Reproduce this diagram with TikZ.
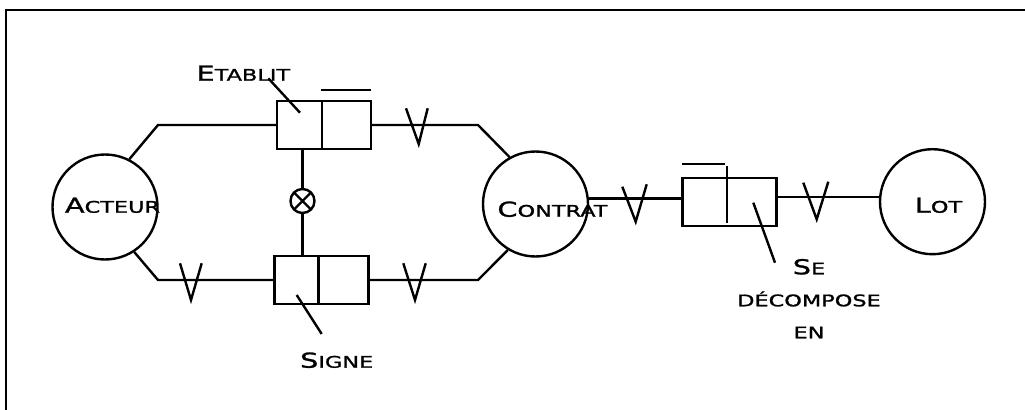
\documentclass[tikz,border=0pt]{standalone}
\usepackage{fontspec}
\setmainfont{DejaVu Sans}[FakeStretch=1.4,FakeBold=1.3]
\newcommand{\smcap}[2]{{\fontsize{15.4pt}{24pt}\selectfont #1}{\fontsize{12pt}{24pt}\selectfont #2}}
\begin{document}
\begin{tikzpicture}[x=0.75pt,y=-0.75pt,line width=1.8pt,
  entity/.style={circle,draw,minimum size=78.75pt,inner sep=0pt},
  relbox/.style={rectangle,draw,minimum width=70.5pt,minimum height=36pt,inner sep=0pt},
  xcirc/.style={circle,draw,minimum size=18pt,inner sep=0pt,
    path picture={\draw (path picture bounding box.north west) -- (path picture bounding box.south east)
      (path picture bounding box.south west) -- (path picture bounding box.north east);}},
  lbl/.style={inner sep=0pt,anchor=base,align=center,font=\fontsize{12pt}{24pt}\selectfont},
  vmark/.style={line join=miter},
  leader/.style={}]
\useasboundingbox (0,0) rectangle (1025,410);
% frame
\draw (6,415) -- (6,10) -- (1030,10);
% entities
\node[entity] (acteur) at (105,207) {};
\node[entity] (contrat) at (535.5,204) {};
\node[entity] (lot) at (932.5,201.7) {};
% relationship boxes
\node[relbox] (box1) at (324,125) {};
\node[relbox] (box2) at (321.3,280) {};
\node[relbox] (box3) at (729.5,201.7) {};
\node[xcirc] (xc) at (302.5,201) {};
% box details
\draw ([xshift=-1.5pt]box1.north) -- ([xshift=-1.5pt]box1.south);
\draw ([shift={(-2.5pt,7.5pt)}]box1.north) -- ([shift={(-0.75pt,7.5pt)}]box1.north east);
\draw ([xshift=-2pt]box2.north) -- ([xshift=-2pt]box2.south);
\draw ([shift={(-2.1pt,8pt)}]box3.north) -- ([shift={(-2.1pt,3.2pt)}]box3.south);
\draw ([shift={(0.75pt,9.5pt)}]box3.north west) -- ([shift={(-3.4pt,9.5pt)}]box3.north);
% corners
\coordinate (c1) at (158,125);
\coordinate (c2) at (478,125);
\coordinate (c3) at (158,280);
\coordinate (c4) at (478,280);
% connectors
\draw (acteur.63) -- (c1) -- (box1.west);
\draw (box1.east) -- (c2) -- (contrat.119);
\draw (acteur.-57) -- (c3) -- (box2.west);
\draw (box2.east) -- (c4) -- (contrat.239);
\draw (box1.south -| xc) -- (xc.north);
\draw (xc.south) -- (box2.north -| xc);
\draw (contrat.6.5) -- (contrat.6.5 -| box3.west);
\draw (box3.east |- lot.175) -- (lot.175);
% cardinality marks
\draw[vmark] (406,108.3) -- (418.7,144) -- (427.7,108.3);
\draw[vmark] (180,263.3) -- (191,300) -- (201.7,263.3);
\draw[vmark] (403.3,263.3) -- (415,300) -- (425.7,263.3);
\draw[vmark] (622.3,186.7) -- (635.7,221.7) -- (646.7,184.3);
\draw[vmark] (803.3,182.7) -- (816.7,219.3) -- (828.3,181.7);
% labels
\node[lbl] (tacteur) at (112.5,212.7) {\smcap{A}{CTEUR}};
\node[lbl] (tcontrat) at (552.5,216.7) {\smcap{C}{ONTRAT}};
\node[lbl] (tlot) at (938.5,212.7) {\smcap{L}{OT}};
\node[lbl] (tetab) at (243.3,80.7) {\smcap{E}{TABLIT}};
\node[lbl] (tsigne) at (336.7,367.7) {\smcap{S}{IGNE}};
\node[lbl] (tdec) at (809,338.3) {\smcap{S}{E}\\\smcap{}{DÉCOMPOSE}\\\smcap{}{EN}};
% leaders
\coordinate (e1) at (268.3,78.3);
\coordinate (e2) at (300,112.7);
\draw[leader] (e1) -- (e2);
\coordinate (s1) at (296.7,295);
\coordinate (s2) at (321.7,334);
\draw[leader] (s1) -- (s2);
\coordinate (d1) at (753.3,202.7);
\coordinate (d2) at (775,262.7);
\draw[leader] (d1) -- (d2);
\end{tikzpicture}
\end{document}
